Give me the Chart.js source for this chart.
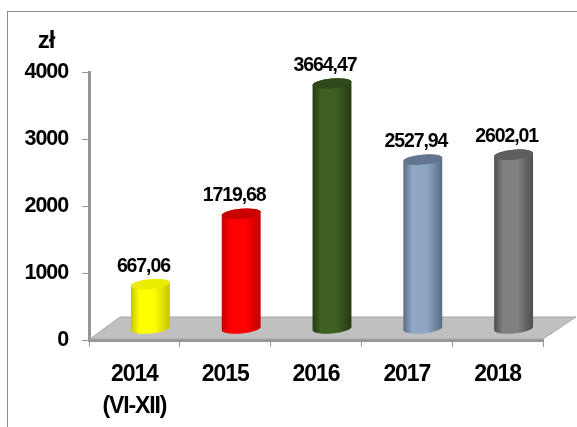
<!DOCTYPE html>
<html>
<head>
<meta charset="utf-8">
<script src="https://cdn.jsdelivr.net/npm/chart.js@4"></script>
<style>
html,body{margin:0;padding:0;background:#fff;overflow:hidden}
#frame{position:absolute;left:7px;top:11px;right:0;bottom:0;border-left:1px solid #8c8c8c;border-top:1px solid #8c8c8c}
#wrap{position:absolute;left:0;top:0;width:577px;height:427px}
</style>
</head>
<body>
<div id="frame"></div>
<div id="wrap"><canvas id="c" width="577" height="427"></canvas></div>
<script>
const categories = [["2014","(VI-XII)"],"2015","2016","2017","2018"];
const values = [667.06,1719.68,3664.47,2527.94,2602.01];
const valueLabels = ["667,06","1719,68","3664,47","2527,94","2602,01"];
const midColors = ["#ffff00","#ff0000","#3f6023","#8fa6c4","#808080"];
const edgeColors = ["#c4c400","#c40000","#263a14","#5a6c84","#4e4e4e"];
const topColors = ["#ecec00","#c80000","#2f4a1a","#64768f","#5e5e5e"];
const unitLabel = "zł";
const yTicks = {min:0,max:4000,step:1000};

const FONT = '"Liberation Sans", Arial, sans-serif';
const DX = 16, DY = -11, RY = 5, TILT = -0.09;

const scene = {
  id:'scene',
  beforeDraw(ch){ ch.ctx.letterSpacing='-1.1px'; },
  beforeDatasetsDraw(ch){
    const {ctx,chartArea:a} = ch;
    ctx.save();
    ctx.fillStyle='#c0c0c0'; ctx.strokeStyle='#a6a6a6'; ctx.lineWidth=1;
    ctx.beginPath();
    ctx.moveTo(a.left+1,a.bottom-1);
    ctx.lineTo(a.left+31,a.bottom-23);
    ctx.lineTo(a.right+33,a.bottom-23);
    ctx.lineTo(a.right,a.bottom-1);
    ctx.closePath(); ctx.fill(); ctx.stroke();
    ctx.restore();
  },
  afterDatasetsDraw(ch){
    const {ctx} = ch;
    const meta = ch.getDatasetMeta(0);
    ctx.save();
    meta.data.forEach((el,i)=>{
      const p = el.getProps(['x','y','base','width'],true);
      const cx=p.x+DX, top=p.y+DY, base=p.base+DY, rx=p.width/2;
      const g=ctx.createLinearGradient(cx-rx,0,cx+rx,0);
      g.addColorStop(0,edgeColors[i]);
      g.addColorStop(0.22,midColors[i]);
      g.addColorStop(0.6,midColors[i]);
      g.addColorStop(1,edgeColors[i]);
      ctx.fillStyle=g;
      ctx.beginPath();
      ctx.ellipse(cx,base,rx,RY,TILT,0,Math.PI,false);
      ctx.ellipse(cx,top,rx,RY,TILT,Math.PI,0,false);
      ctx.closePath(); ctx.fill();
      ctx.beginPath();
      ctx.ellipse(cx,top,rx,RY,TILT,0,Math.PI*2);
      ctx.fillStyle=topColors[i]; ctx.fill();
      ctx.fillStyle='#000';
      ctx.font='bold 19.5px '+FONT;
      ctx.textAlign='center'; ctx.textBaseline='middle';
      ctx.fillText(valueLabels[i],cx-7,top-18);
    });
    ctx.font='bold 24px '+FONT;
    ctx.textAlign='center'; ctx.textBaseline='middle';
    ctx.fillStyle='#000';
    ctx.fillText(unitLabel,46,41);
    ctx.restore();
  }
};

new Chart(document.getElementById('c'),{
  type:'bar',
  data:{labels:categories,datasets:[{data:values,backgroundColor:'rgba(0,0,0,0)',borderWidth:0,
    categoryPercentage:1,barPercentage:0.43}]},
  plugins:[scene],
  options:{
    responsive:false,animation:false,
    layout:{padding:{left:0,top:72,right:34,bottom:0}},
    plugins:{legend:{display:false},title:{display:false},tooltip:{enabled:false}},
    scales:{
      x:{
        afterFit(s){s.height=87;},
        grid:{drawOnChartArea:false,drawTicks:true,tickLength:7,tickColor:'#969696',tickWidth:1},
        border:{color:'#969696',width:3},
        ticks:{color:'#000',font:{family:FONT,size:23,weight:'bold',lineHeight:1.39},padding:12,maxRotation:0,autoSkip:false}
      },
      y:{
        min:yTicks.min,max:yTicks.max,
        afterFit(s){s.width=89;},
        grid:{drawOnChartArea:false,drawTicks:true,tickLength:7,tickColor:'#969696',tickWidth:1},
        border:{color:'#969696',width:3},
        ticks:{stepSize:yTicks.step,color:'#000',font:{family:FONT,size:21.5,weight:'bold'},padding:14,callback:v=>String(v)}
      }
    }
  }
});
</script>
</body>
</html>
